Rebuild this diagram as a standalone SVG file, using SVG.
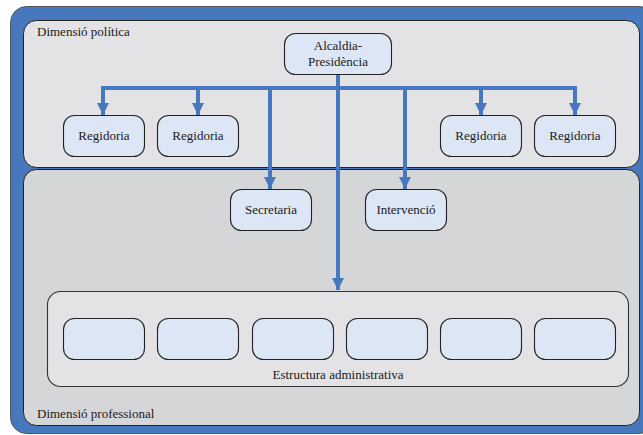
<svg xmlns="http://www.w3.org/2000/svg" width="643" height="435" viewBox="0 0 643 435" font-family="'Liberation Serif', 'Times New Roman', 'DejaVu Serif', serif">
  <style>
    text { font-family: 'Liberation Serif', 'Times New Roman', 'DejaVu Serif', serif; font-size: 13px; fill: #1a1a1a; }
    .mid { text-anchor: middle; }
    .node { fill: #dde6f5; stroke: #222; stroke-width: 1.1; }
    .wire { fill: none; stroke: #4677bf; stroke-width: 4; }
  </style>
  <defs>
    <marker id="arrow" viewBox="0 0 12 12" refX="12" refY="6" markerWidth="3" markerHeight="3" markerUnits="strokeWidth" orient="auto">
      <path d="M0,0 L12,6 L0,12 Z" fill="#4677bf"/>
    </marker>
  </defs>

  <rect width="643" height="435" fill="#ffffff"/>

  <!-- outer blue frame -->
  <rect x="10.5" y="6.5" width="645" height="427" rx="16" fill="#4778bd" stroke="#555" stroke-width="1"/>

  <!-- political dimension panel -->
  <g id="dimensio-politica">
    <rect x="23.5" y="20.5" width="616" height="147" rx="13" fill="#e3e3e5" stroke="#222" stroke-width="1"/>
    <text x="37" y="36">Dimensió política</text>
  </g>

  <!-- professional dimension panel -->
  <g id="dimensio-professional">
    <rect x="23.5" y="169.5" width="616" height="256" rx="13" fill="#d5d6d8" stroke="#222" stroke-width="1"/>
    <text x="37" y="418">Dimensió professional</text>
  </g>

  <!-- administrative structure -->
  <g id="estructura-administrativa">
    <rect x="47.5" y="291.5" width="581" height="95" rx="13" fill="#e3e3e5" stroke="#333" stroke-width="1.1"/>
    <rect class="node" x="63.5" y="318.5" width="81" height="41" rx="11"/>
    <rect class="node" x="157.5" y="318.5" width="81" height="41" rx="11"/>
    <rect class="node" x="252.5" y="318.5" width="81" height="41" rx="11"/>
    <rect class="node" x="346.5" y="318.5" width="81" height="41" rx="11"/>
    <rect class="node" x="440.5" y="318.5" width="81" height="41" rx="11"/>
    <rect class="node" x="534.5" y="318.5" width="81" height="41" rx="11"/>
    <text class="mid" x="338" y="379">Estructura administrativa</text>
  </g>

  <!-- connectors -->
  <g id="connectors">
    <path class="wire" d="M338,74 V88"/>
    <path class="wire" d="M103,88 H577"/>
    <path class="wire" d="M103,86 V115" marker-end="url(#arrow)"/>
    <path class="wire" d="M198,88 V115" marker-end="url(#arrow)"/>
    <path class="wire" d="M481,88 V115" marker-end="url(#arrow)"/>
    <path class="wire" d="M575,86 V115" marker-end="url(#arrow)"/>
    <path class="wire" d="M270,88 V189" marker-end="url(#arrow)"/>
    <path class="wire" d="M405,88 V189" marker-end="url(#arrow)"/>
    <path class="wire" d="M338,74 V290" marker-end="url(#arrow)"/>
  </g>

  <g id="alcaldia">
    <rect class="node" x="284.5" y="33.5" width="107" height="41" rx="11"/>
    <text class="mid" x="338" y="50">Alcaldia-</text>
    <text class="mid" x="338" y="66">Presidència</text>
  </g>

  <g id="regidoria-1">
    <rect class="node" x="63.5" y="115.5" width="81" height="41" rx="11"/>
    <text class="mid" x="104" y="140">Regidoria</text>
  </g>
  <g id="regidoria-2">
    <rect class="node" x="157.5" y="115.5" width="81" height="41" rx="11"/>
    <text class="mid" x="198" y="140">Regidoria</text>
  </g>
  <g id="regidoria-3">
    <rect class="node" x="440.5" y="115.5" width="81" height="41" rx="11"/>
    <text class="mid" x="481" y="140">Regidoria</text>
  </g>
  <g id="regidoria-4">
    <rect class="node" x="534.5" y="115.5" width="81" height="41" rx="11"/>
    <text class="mid" x="575" y="140">Regidoria</text>
  </g>

  <g id="secretaria">
    <rect class="node" x="230.5" y="189.5" width="81" height="41" rx="11"/>
    <text class="mid" x="271" y="214">Secretaria</text>
  </g>
  <g id="intervencio">
    <rect class="node" x="365.5" y="189.5" width="81" height="41" rx="11"/>
    <text class="mid" x="406" y="214">Intervenció</text>
  </g>
</svg>
